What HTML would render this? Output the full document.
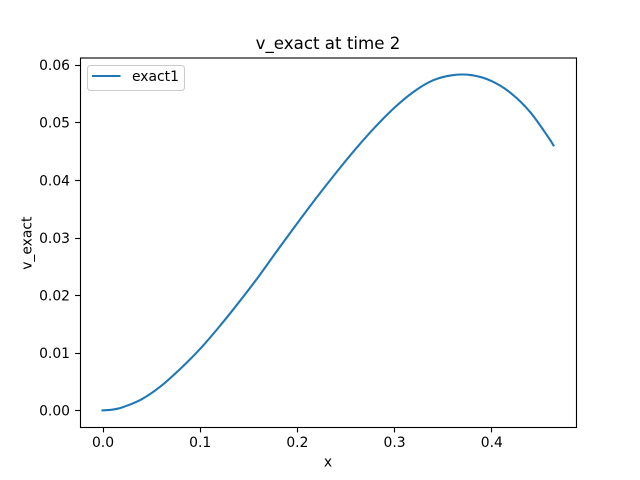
<!DOCTYPE html>
<html>
<head>
<meta charset="utf-8">
<style>
html,body{margin:0;padding:0;background:#fff;}
svg{display:block;}
text{font-family:"DejaVu Sans","Liberation Sans",sans-serif;fill:#000;}
</style>
</head>
<body>
<svg id="chart" xmlns="http://www.w3.org/2000/svg" width="640" height="480" viewBox="0 0 640 480">
  <rect x="0" y="0" width="640" height="480" fill="#fff"/>
  <text x="328" y="49" font-size="16.67" text-anchor="middle">v_exact at time 2</text>
  <g id="series-layer"></g>
  <g id="x-ticks"></g>
  <g id="y-ticks"></g>
  <rect x="80.5" y="58" width="496" height="369.5" fill="none" stroke="#000" stroke-width="1.11"/>
  <text x="328" y="466.5" font-size="13.89" text-anchor="middle">x</text>
  <text transform="translate(31.5,243.2) rotate(-90)" font-size="13.89" text-anchor="middle">v_exact</text>
  <g>
    <rect x="87.5" y="65.5" width="97" height="25" rx="3" ry="3" fill="#fff" fill-opacity="0.8" stroke="#ccc" stroke-width="1.11"/>
    <line x1="92" y1="76" x2="120.5" y2="76" stroke="#1f77b4" stroke-width="2.08"/>
    <text x="132" y="81" font-size="13.89">exact1</text>
  </g>
</svg>
<script>
const categories = [0, 0.01, 0.02, 0.04, 0.06, 0.08, 0.10, 0.12, 0.14, 0.16, 0.18, 0.20, 0.22, 0.24, 0.26, 0.28, 0.30, 0.32, 0.34, 0.36, 0.38, 0.40, 0.42, 0.44, 0.46, 0.464];
const exact1Values = [0, 0.00012, 0.0005, 0.0019, 0.0042, 0.0072, 0.0106, 0.0145, 0.0187, 0.0231, 0.0278, 0.0324, 0.0369, 0.0412, 0.0453, 0.0491, 0.0525, 0.0553, 0.0573, 0.0582, 0.0582, 0.0572, 0.0551, 0.0518, 0.0471, 0.0460];
const xTickValues = [0, 0.1, 0.2, 0.3, 0.4];
const xTickLabels = ["0.0", "0.1", "0.2", "0.3", "0.4"];
const yTickValues = [0, 0.01, 0.02, 0.03, 0.04, 0.05, 0.06];
const yTickLabels = ["0.00", "0.01", "0.02", "0.03", "0.04", "0.05", "0.06"];

const NS = 'http://www.w3.org/2000/svg';
function xScale(v) { return 102.5 + v * 972; }
function yScale(v) { return 410.4 - v * 5760; }

function make(tag, attrs, parent) {
  const el = document.createElementNS(NS, tag);
  Object.keys(attrs).forEach(function (k) { el.setAttribute(k, attrs[k]); });
  parent.appendChild(el);
  return el;
}

const xLayer = document.getElementById('x-ticks');
xTickValues.forEach(function (v, i) {
  const px = Math.round(xScale(v)) + 0.5;
  const tick = make('line', { x1: px, x2: px, y1: 427.5, y2: 432.4, stroke: '#000', 'stroke-width': 1.11 }, xLayer);
  
  
  const label = make('text', { x: xScale(v) + 0.5, y: 447, 'font-size': 13.89, 'text-anchor': 'middle' }, xLayer);
  
  
  label.textContent = xTickLabels[i];
});

const yLayer = document.getElementById('y-ticks');
yTickValues.forEach(function (v, i) {
  const py = Math.round(yScale(v)) + 0.5;
  const tick = make('line', { x1: 75.1, x2: 80, y1: py, y2: py, stroke: '#000', 'stroke-width': 1.11 }, yLayer);
  
  
  const label = make('text', { x: 70, y: yScale(v) + 5.3, 'font-size': 13.89, 'text-anchor': 'end' }, yLayer);
  
  
  label.textContent = yTickLabels[i];
});

const pts = categories.map(function (c, i) { return [xScale(c), yScale(exact1Values[i])]; });
let d = 'M' + pts[0][0].toFixed(2) + ' ' + pts[0][1].toFixed(2);
for (let i = 0; i < pts.length - 1; i++) {
  const p0 = pts[Math.max(i - 1, 0)];
  const p1 = pts[i];
  const p2 = pts[i + 1];
  const p3 = pts[Math.min(i + 2, pts.length - 1)];
  const s = (p2[0] - p1[0]);
  const m1 = (p2[1] - p0[1]) / (p2[0] - p0[0]);
  const m2 = (p3[1] - p1[1]) / (p3[0] - p1[0]);
  d += ' C' + (p1[0] + s / 3).toFixed(2) + ' ' + (p1[1] + m1 * s / 3).toFixed(2) + ' ' +
       (p2[0] - s / 3).toFixed(2) + ' ' + (p2[1] - m2 * s / 3).toFixed(2) + ' ' +
       p2[0].toFixed(2) + ' ' + p2[1].toFixed(2);
}
const seriesLine = make('path', { d: d, fill: 'none', stroke: '#1f77b4', 'stroke-width': 2.08, 'stroke-linecap': 'square', 'stroke-linejoin': 'round' }, document.getElementById('series-layer'));


</script>
</body>
</html>
